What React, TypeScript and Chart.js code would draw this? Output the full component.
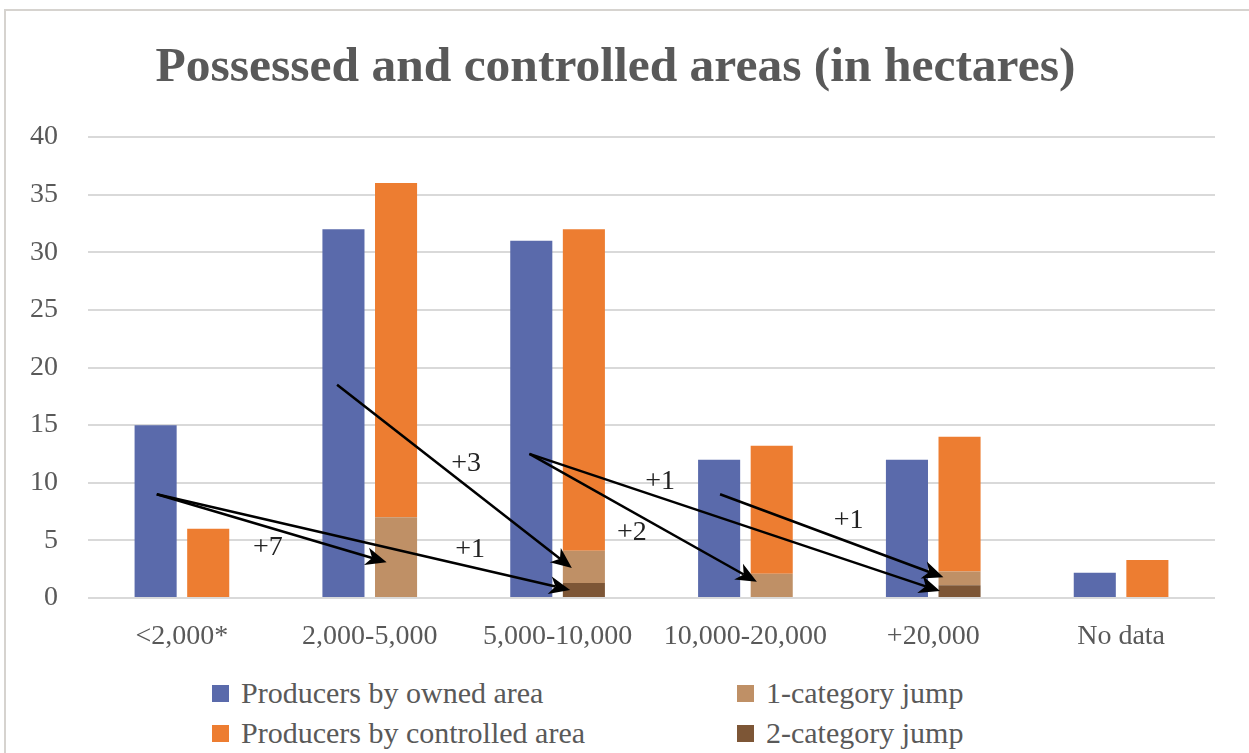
import React, { useEffect, useRef } from "react";
import { Chart, registerables } from "chart.js";

Chart.register(...registerables);

// ---- data ----
const categories = ["<2,000*", "2,000-5,000", "5,000-10,000", "10,000-20,000", "+20,000", "No data"];
const ownedArea = [15, 32, 31, 12, 12, 2.2];
const controlledArea = [6, 36, 32, 13.2, 14, 3.3];
const oneCategoryJump = [0, 7, 2.8, 2.1, 1.2, 0];
const twoCategoryJump = [0, 0, 1.3, 0, 1.1, 0];
const yTickValues = [0, 5, 10, 15, 20, 25, 30, 35, 40];

// arrows (from category/value to category/value) and their labels
const arrowFromCategory = [0, 0, 1, 2, 2, 3];
const arrowFromValue = [9, 9, 18.5, 12.5, 12.5, 9];
const arrowToCategory = [1, 2, 2, 3, 4, 4];
const arrowToValue = [3.1, 0.7, 2.6, 1.4, 0.6, 1.8];
const arrowLabels = ["+7", "+1", "+3", "+2", "+1", "+1"];
const arrowLabelCategory = [0, 1, 1, 2, 2, 3];
const arrowLabelValue = [4.4, 4.2, 11.7, 5.7, 10.1, 6.75];

// placement within a category (fraction of category width)
const arrowFromShift = [-0.134, -0.134, -0.174, -0.15, -0.15, -0.135];
const arrowToShift = [0.09, 0.067, 0.076, 0.061, 0.036, 0.054];
const arrowLabelShift = [0.458, 0.534, 0.513, 0.396, 0.546, 0.549];

const BLUE = "#5a6aab";
const ORANGE = "#ed7d31";
const TAN = "#bf9066";
const BROWN = "#7d5636";
const TEXT = "#595959";
const FONT = "'Liberation Serif', 'Times New Roman', serif";

const controlledRemainder = controlledArea.map(
  (v, i) => Math.round((v - oneCategoryJump[i] - twoCategoryJump[i]) * 100) / 100
);

const arrowPlugin = {
  id: "jumpArrows",
  afterDatasetsDraw(chart: any) {
    const xs = chart.scales.x;
    const ys = chart.scales.y;
    const cw = (xs.right - xs.left) / categories.length;
    const ctx = chart.ctx as CanvasRenderingContext2D;
    ctx.save();
    ctx.strokeStyle = "#000";
    ctx.fillStyle = "#000";
    ctx.lineWidth = 2.5;
    for (let i = 0; i < arrowLabels.length; i++) {
      const x1 = xs.getPixelForValue(arrowFromCategory[i]) + arrowFromShift[i] * cw;
      const y1 = ys.getPixelForValue(arrowFromValue[i]);
      const x2 = xs.getPixelForValue(arrowToCategory[i]) + arrowToShift[i] * cw;
      const y2 = ys.getPixelForValue(arrowToValue[i]);
      const a = Math.atan2(y2 - y1, x2 - x1);
      const c = Math.cos(a);
      const s = Math.sin(a);
      const L = 21;
      const W = 9;
      ctx.beginPath();
      ctx.moveTo(x1, y1);
      ctx.lineTo(x2 - (L - 6) * c, y2 - (L - 6) * s);
      ctx.stroke();
      const bx = x2 - L * c;
      const by = y2 - L * s;
      ctx.beginPath();
      ctx.moveTo(x2, y2);
      ctx.lineTo(bx - W * s, by + W * c);
      ctx.lineTo(x2 - L * 0.72 * c, y2 - L * 0.72 * s);
      ctx.lineTo(bx + W * s, by - W * c);
      ctx.closePath();
      ctx.fill();
    }
    ctx.font = `28px ${FONT}`;
    ctx.fillStyle = "#222";
    ctx.textAlign = "center";
    ctx.textBaseline = "middle";
    for (let i = 0; i < arrowLabels.length; i++) {
      const lx = xs.getPixelForValue(arrowLabelCategory[i]) + arrowLabelShift[i] * cw;
      const ly = ys.getPixelForValue(arrowLabelValue[i]);
      ctx.fillText(arrowLabels[i], lx, ly);
    }
    ctx.restore();
  },
};

function ChartCanvas() {
  const ref = useRef<HTMLCanvasElement | null>(null);
  useEffect(() => {
    if (!ref.current) return;
    const chart = new Chart(ref.current, {
      type: "bar",
      data: {
        labels: categories,
        datasets: [
          { label: "Producers by owned area", data: ownedArea, backgroundColor: BLUE, stack: "owned" },
          { label: "2-category jump", data: twoCategoryJump, backgroundColor: BROWN, stack: "controlled" },
          { label: "1-category jump", data: oneCategoryJump, backgroundColor: TAN, stack: "controlled" },
          { label: "Producers by controlled area", data: controlledRemainder, backgroundColor: ORANGE, stack: "controlled" },
        ],
      },
      options: {
        animation: false,
        responsive: false,
        maintainAspectRatio: false,
        datasets: { bar: { categoryPercentage: 0.56, barPercentage: 0.8 } },
        layout: { padding: { left: 0, right: 34, top: 137, bottom: 0 } },
        plugins: { legend: { display: false }, title: { display: false }, tooltip: { enabled: false } },
        scales: {
          x: {
            stacked: true,
            grid: { display: false, drawTicks: false },
            border: { display: false },
            ticks: { color: TEXT, font: { family: FONT, size: 28 }, padding: 22, maxRotation: 0, autoSkip: false },
            afterFit: (s: any) => { s.height = 67; },
          },
          y: {
            stacked: true,
            min: 0,
            max: 40,
            afterBuildTicks: (s: any) => { s.ticks = yTickValues.map((v) => ({ value: v })); },
            grid: { color: "#d9d9d9", lineWidth: 2, drawTicks: false },
            border: { display: false },
            ticks: { color: TEXT, font: { family: FONT, size: 28 }, padding: 30 },
            afterFit: (s: any) => { s.width = 88; },
          },
        },
      },
      plugins: [arrowPlugin],
    });
    return () => chart.destroy();
  }, []);
  return <canvas ref={ref} width={1249} height={665} style={{ position: "absolute", left: 0, top: 0, width: 1249, height: 665 }} />;
}

const legendItems = [
  { label: "Producers by owned area", color: BLUE, left: 212, top: 681 },
  { label: "Producers by controlled area", color: ORANGE, left: 212, top: 721 },
  { label: "1-category jump", color: TAN, left: 737, top: 681 },
  { label: "2-category jump", color: BROWN, left: 737, top: 721 },
];

export default function App() {
  return (
    <div style={{ position: "fixed", left: 0, top: 0, width: 1249, height: 753, overflow: "hidden", background: "#fff" }}>
      <div style={{ position: "absolute", left: 4, top: 9, width: 1300, height: 900, borderLeft: "2px solid #d6d3cf", borderTop: "2px solid #d6d3cf" }} />
      <ChartCanvas />
      <div
        style={{
          position: "absolute",
          left: 0,
          top: 41,
          width: 1231,
          textAlign: "center",
          fontFamily: FONT,
          fontWeight: "bold",
          fontSize: 49.5,
          lineHeight: "48px",
          color: TEXT,
          whiteSpace: "nowrap",
        }}
      >
        Possessed and controlled areas (in hectares)
      </div>
      {legendItems.map((it) => (
        <div key={it.label} style={{ position: "absolute", left: it.left, top: it.top, height: 24, display: "flex", alignItems: "center", whiteSpace: "nowrap" }}>
          <span style={{ display: "inline-block", width: 17, height: 17, background: it.color, marginRight: 12 }} />
          <span style={{ fontFamily: FONT, fontSize: 30, lineHeight: "24px", color: TEXT }}>{it.label}</span>
        </div>
      ))}
    </div>
  );
}
